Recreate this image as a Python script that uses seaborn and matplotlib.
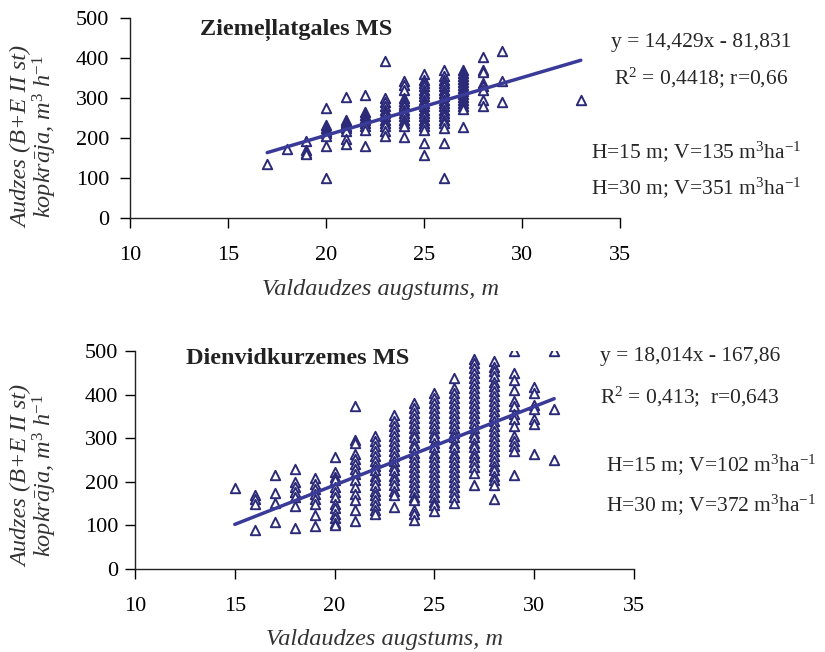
import numpy as np
import pandas as pd
import matplotlib
matplotlib.use('Agg')
import matplotlib.pyplot as plt
import seaborn as sns

# --- data ---
# Ziemeļlatgales MS: stand height (m) and volume (m3/ha)
zl_height = ([17] + [18] + [19]*4 + [20]*8 + [21]*9 + [22]*9 + [23]*12 + [24]*14
             + [25]*19 + [26]*19 + [27]*15 + [28]*8 + [29]*3 + [33])
zl_volume = ([136]
             + [172]
             + [192, 170, 162, 160]
             + [275, 233, 225, 218, 212, 204, 181, 100]
             + [302, 246, 240, 237, 230, 225, 217, 197, 186]
             + [308, 266, 258, 250, 246, 238, 229, 220, 179]
             + [393, 300, 290, 279, 270, 262, 255, 246, 238, 229, 217, 204]
             + [342, 333, 321, 300, 292, 285, 279, 270, 262, 254, 246, 238, 229, 202]
             + [361, 345, 337, 330, 321, 313, 304, 296, 287, 279, 271, 262, 254, 246,
                237, 229, 221, 187, 158]
             + [369, 355, 346, 338, 329, 321, 312, 304, 296, 287, 279, 270, 262, 254,
                246, 237, 225, 187, 100]
             + [370, 362, 355, 348, 340, 333, 325, 318, 310, 302, 295, 287, 280, 272, 228]
             + [402, 371, 365, 337, 329, 321, 296, 279]
             + [417, 342, 289]
             + [294])
zl_slope, zl_icpt = 14.429, -81.831

# Dienvidkurzemes MS
dk_height = ([15] + [16]*4 + [17]*4 + [18]*7 + [19]*8 + [20]*13 + [21]*14 + [22]*17
             + [23]*18 + [24]*24 + [25]*25 + [26]*25 + [27]*25 + [28]*27 + [29]*14
             + [30]*7 + [31]*3)
dk_volume = ([186]
             + [169, 161, 150, 89]
             + [216, 174, 152, 107]
             + [230, 199, 188, 177, 165, 145, 93]
             + [209, 195, 184, 173, 161, 150, 123, 98]
             + [256, 222, 211, 203, 188, 177, 165, 150, 139, 127, 116, 105, 101]
             + [373, 295, 290, 264, 252, 241, 230, 218, 203, 188, 173, 158, 135, 110]
             + [305, 294, 283, 271, 260, 248, 237, 226, 214, 203, 192, 180, 169, 158,
                146, 135, 127]
             + [353, 339, 328, 317, 305, 294, 283, 271, 260, 248, 237, 226, 214, 203,
                192, 180, 169, 142]
             + [381, 370, 358, 347, 336, 324, 313, 302, 290, 279, 267, 256, 245, 233,
                222, 211, 199, 188, 177, 165, 158, 135, 127, 112]
             + [404, 392, 381, 370, 358, 347, 336, 324, 313, 302, 290, 279, 267, 256,
                245, 233, 222, 211, 199, 188, 177, 165, 154, 146, 133]
             + [438, 415, 404, 392, 381, 370, 358, 347, 336, 324, 313, 302, 290, 279,
                267, 256, 245, 233, 222, 211, 199, 188, 177, 165, 152]
             + [482, 472, 461, 449, 438, 427, 415, 404, 392, 381, 370, 358, 347, 336,
                324, 313, 302, 290, 279, 267, 256, 245, 233, 220, 192]
             + [476, 464, 453, 442, 430, 419, 408, 396, 385, 373, 362, 351, 339, 328,
                317, 305, 294, 283, 271, 260, 248, 237, 226, 214, 203, 192, 161]
             + [500, 449, 434, 411, 385, 373, 355, 343, 328, 305, 294, 283, 271, 216]
             + [417, 404, 377, 366, 343, 332, 264]
             + [500, 367, 250])
dk_slope, dk_icpt = 18.014, -167.86

panels = [
    dict(h=zl_height, v=zl_volume, slope=zl_slope, icpt=zl_icpt,
         title="Ziemeļlatgales MS",
         eq="y = 14,429x - 81,831", r2="R$^2$ = 0,4418; r=0,66",
         h15="H=15 m; V=135 m$^3$ha$^{-1}$", h30="H=30 m; V=351 m$^3$ha$^{-1}$"),
    dict(h=dk_height, v=dk_volume, slope=dk_slope, icpt=dk_icpt,
         title="Dienvidkurzemes MS",
         eq="y = 18,014x - 167,86", r2="R$^2$ = 0,413;  r=0,643",
         h15="H=15 m; V=102 m$^3$ha$^{-1}$", h30="H=30 m; V=372 m$^3$ha$^{-1}$"),
]

sns.set_style('ticks')
plt.rcParams['font.family'] = ['Liberation Serif', 'DejaVu Serif']
plt.rcParams['mathtext.fontset'] = 'custom'
plt.rcParams['mathtext.rm'] = 'Liberation Serif'
plt.rcParams['mathtext.it'] = 'Liberation Serif:italic'
plt.rcParams['mathtext.bf'] = 'Liberation Serif:bold'

W, H = 825, 652
fig = plt.figure(figsize=(W / 100, H / 100), dpi=100)

# axes boxes in pixels: left, top, right, bottom
boxes = [(130, 18, 620, 218), (135, 351, 634, 569)]
# text positions in pixels
txt = [dict(title=(200, 30), eq=(701, 42), r2=(701, 78), h15=(591, 152), h30=(591, 188),
            ytick_pad=8, ylab=(35, 137), xlab=(381, 290)),
       dict(title=(186, 358), eq=(690, 356), r2=(690, 397), h15=(606, 465), h30=(606, 505),
            ytick_pad=5, ylab=(35, 476), xlab=(384, 640))]

mark_col = '#2b2a78'
line_col = '#3a3a98'
txt_size = 15.5
lab_size = 17.5

for p, (l, t, r, b), tp in zip(panels, boxes, txt):
    ax = fig.add_axes([l / W, 1 - b / H, (r - l) / W, (b - t) / H])
    df = pd.DataFrame({'height': p['h'], 'volume': p['v']})
    sns.scatterplot(data=df, x='height', y='volume', ax=ax, marker='^', s=46,
                    facecolor='white', edgecolor=mark_col, linewidth=1.4, zorder=2)
    xs = np.array([df['height'].min(), df['height'].max()])
    line = pd.DataFrame({'height': xs, 'volume': p['slope'] * xs + p['icpt']})
    sns.lineplot(data=line, x='height', y='volume', ax=ax, color=line_col,
                 linewidth=2.5, zorder=3)
    ax.set_xlim(10, 35)
    ax.set_ylim(0, 500)
    ax.set_xticks(range(10, 36, 5))
    ax.set_yticks(range(0, 501, 100))
    ax.tick_params(axis='x', direction='out', length=7, width=1, pad=13,
                   labelsize=16, colors='black')
    ax.tick_params(axis='y', direction='out', length=7, width=1, pad=tp['ytick_pad'],
                   labelsize=16, colors='black')
    ax.set_xlabel('')
    ax.set_ylabel('')
    for s in ['left', 'bottom']:
        ax.spines[s].set_color('#222222')
        ax.spines[s].set_linewidth(1)
    sns.despine(ax=ax)

    fig.text(tp['title'][0] / W, 1 - tp['title'][1] / H, p['title'], fontsize=lab_size,
             fontweight='bold', ha='left', va='center', color='#222222')
    fig.text(tp['eq'][0] / W, 1 - tp['eq'][1] / H, p['eq'], fontsize=txt_size,
             ha='center', va='center')
    fig.text(tp['r2'][0] / W, 1 - tp['r2'][1] / H, p['r2'], fontsize=txt_size,
             ha='center', va='center')
    fig.text(tp['h15'][0] / W, 1 - tp['h15'][1] / H, p['h15'], fontsize=txt_size,
             ha='left', va='center')
    fig.text(tp['h30'][0] / W, 1 - tp['h30'][1] / H, p['h30'], fontsize=txt_size,
             ha='left', va='center')
    fig.text(tp['ylab'][0] / W, 1 - tp['ylab'][1] / H,
             'Audzes (B+E II st)\nkopkrāja, m$^3$ h$^{-1}$', fontsize=lab_size,
             style='italic', rotation=90, ha='center', va='center',
             linespacing=0.95, color='#333333')
    fig.text(tp['xlab'][0] / W, 1 - tp['xlab'][1] / H, 'Valdaudzes augstums, m',
             fontsize=lab_size, style='italic', ha='center', va='center', color='#333333')

fig.savefig('out.png', dpi=100)
